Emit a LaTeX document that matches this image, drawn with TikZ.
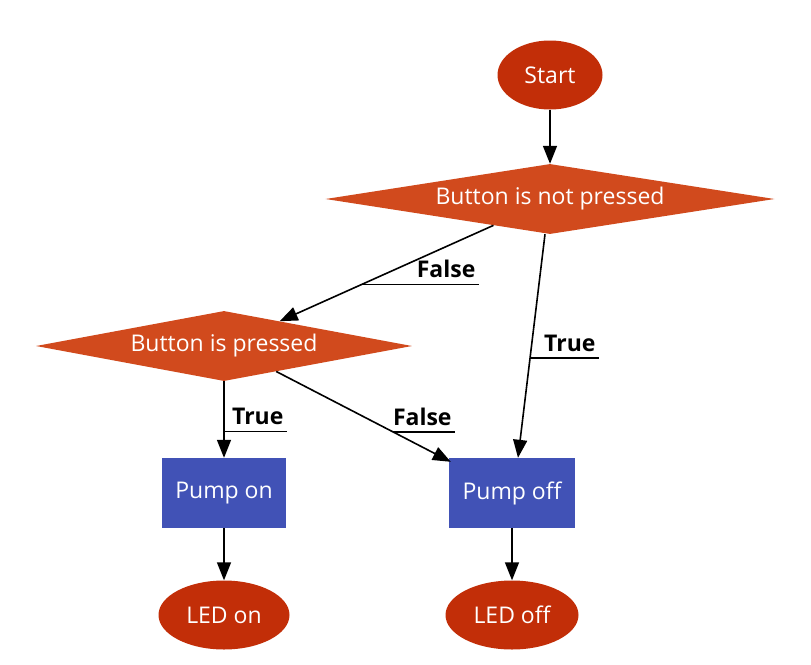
\documentclass[tikz,border=0pt]{standalone}
\usepackage{fontspec}
\setmainfont{Open Sans}
\usetikzlibrary{shapes.geometric,arrows.meta}

\definecolor{termred}{RGB}{194,46,8}
\definecolor{decred}{RGB}{209,74,29}
\definecolor{procblue}{RGB}{65,82,182}

\begin{document}
\begin{tikzpicture}[
  x=1pt, y=-1pt,
  every node/.style={font=\fontsize{23}{27}\selectfont},
  terminal/.style={ellipse, fill=termred, text=white, inner sep=0pt,
    minimum width=#1, minimum height=69pt},
  decision/.style={diamond, aspect=6.5, fill=decred, text=white, inner sep=0pt,
    minimum width=#1, minimum height=70pt},
  process/.style={rectangle, fill=procblue, text=white, inner sep=0pt,
    minimum width=#1, minimum height=70pt},
  flow/.style={line width=1.6pt, -{Triangle[length=18pt,width=14pt]}},
  uline/.style={line width=1.2pt},
  lbl/.style={font=\fontsize{23}{27}\selectfont\bfseries, anchor=south east,
    inner xsep=3pt, inner ysep=6pt}
]
\useasboundingbox (0,0) rectangle (811,664);

\node [terminal=105pt] (start) at (550,75) {Start};
\node [decision=449pt] (notpressed) at (550,199) {Button is not pressed};
\node [decision=376pt] (pressed) at (224,346) {Button is pressed};
\node [process=124pt] (pumpon) at (224,493) {Pump on};
\node [process=126pt] (pumpoff) at (512,493) {Pump off};
\node [terminal=131pt] (ledon) at (224,615) {LED on};
\node [terminal=133pt] (ledoff) at (512,615) {LED off};

\draw [flow] (start) -- (notpressed);
\draw [flow] (notpressed.205) -- coordinate [pos=0.615] (falseA) (pressed.24);
\draw [flow] ([xshift=-5pt]notpressed.south) -- coordinate [pos=0.554] (trueA) ([xshift=6pt]pumpoff.north);
\draw [flow] (pressed) -- coordinate [pos=0.66] (trueB) (pumpon);
\draw [flow] (pressed.-26) -- coordinate [pos=0.67] (falseB) ([xshift=2pt,yshift=-4pt]pumpoff.north west);
\draw [flow] (pumpon) -- (ledon);
\draw [flow] (pumpoff) -- (ledoff);

% edge labels
\draw [uline] (falseA) -- ++(117,0) node [lbl] {False};
\draw [uline] (trueA) -- ++(69,0) node [lbl] {True};
\draw [uline] (trueB) -- ++(63,0) node [lbl] {True};
\draw [uline] (falseB) -- ++(62,0) node [lbl] {False};
\end{tikzpicture}
\end{document}
